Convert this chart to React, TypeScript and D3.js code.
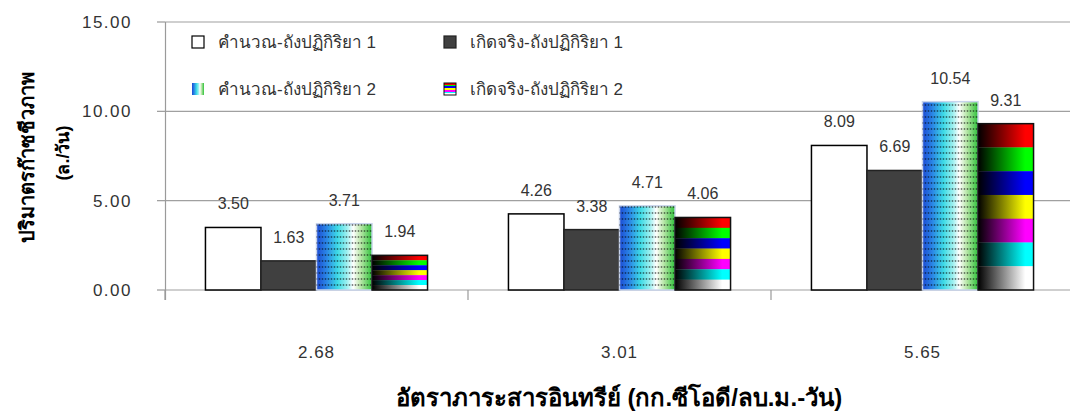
import React from "react";
import * as d3 from "d3";

const categories = ["2.68", "3.01", "5.65"];
const seriesNames = [
  "คำนวณ-ถังปฏิกิริยา 1",
  "เกิดจริง-ถังปฏิกิริยา 1",
  "คำนวณ-ถังปฏิกิริยา 2",
  "เกิดจริง-ถังปฏิกิริยา 2",
];
const calc1 = [3.5, 4.26, 8.09];
const actual1 = [1.63, 3.38, 6.69];
const calc2 = [3.71, 4.71, 10.54];
const actual2 = [1.94, 4.06, 9.31];
const yTicks = [0, 5, 10, 15];
const yTitle1 = "ปริมาตรก๊าซชีวภาพ";
const yTitle2 = "(ล./วัน)";
const xTitle = "อัตราภาระสารอินทรีย์ (กก.ซีโอดี/ลบ.ม.-วัน)";
const stripeColors = ["#ff0000", "#00ff00", "#0000ff", "#ffff00", "#ff00ff", "#00ffff", "#ffffff"];

const W = 1070;
const H = 412;
const FONT = "'Liberation Sans', Arial, 'DejaVu Sans', sans-serif";

export default function App() {
  const seriesValues = [calc1, actual1, calc2, actual2];
  const x = d3
    .scaleBand<string>()
    .domain(categories)
    .range([165, 1074])
    .paddingInner(0.267)
    .paddingOuter(0.1335);
  const step = x.step();
  const xs = d3
    .scaleBand<number>()
    .domain(d3.range(seriesNames.length))
    .range([0, x.bandwidth()]);
  const y = d3.scaleLinear().domain([0, 15]).range([290, 22]);
  const y0 = y(0);

  const fills = ["#ffffff", "#404040"];

  const bars: JSX.Element[] = [];
  const labels: JSX.Element[] = [];
  categories.forEach((c, ci) => {
    seriesValues.forEach((vals, si) => {
      const v = vals[ci];
      const bx = (x(c) as number) + (xs(si) as number);
      const bw = xs.bandwidth();
      const by = y(v);
      const bh = y0 - by;
      const key = `${ci}-${si}`;
      if (si < 2) {
        bars.push(
          <rect key={key} x={bx} y={by} width={bw} height={bh} fill={fills[si]} stroke={si === 0 ? "#000" : "#222"} strokeWidth={1.5} />
        );
      } else if (si === 2) {
        bars.push(
          <g key={key}>
            <rect x={bx} y={by} width={bw} height={bh} fill="url(#blueGrad)" stroke="#c8d4ec" strokeWidth={1.5} />
            <rect x={bx} y={by} width={bw} height={bh} fill="url(#dots)" />
          </g>
        );
      } else {
        const sh = bh / stripeColors.length;
        bars.push(
          <g key={key}>
            {stripeColors.map((col, k) => (
              <rect key={k} x={bx} y={by + k * sh} width={bw} height={sh + 0.3} fill={`url(#stripe${k})`} />
            ))}
            <rect x={bx} y={by} width={bw} height={bh} fill="none" stroke="#111" strokeWidth={1.5} />
          </g>
        );
      }
      labels.push(
        <text key={"l" + key} x={bx + bw / 2} y={by - 18} textAnchor="middle" fontSize={16} fill="#333" fontFamily={FONT}>
          {v.toFixed(2)}
        </text>
      );
    });
  });

  const legendPos = [
    { mx: 192, tx: 218, cy: 42 },
    { mx: 444, tx: 470, cy: 42 },
    { mx: 192, tx: 218, cy: 89 },
    { mx: 444, tx: 470, cy: 89 },
  ];

  const boundaries = categories.map((c) => (x(c) as number) - step * 0.1335).concat([(x(categories[categories.length - 1]) as number) + x.bandwidth() + step * 0.1335]);

  return (
    <svg width={W} height={H} style={{ position: "absolute", left: 0, top: 0, background: "#fff" }}>
      <defs>
        <linearGradient id="blueGrad" x1="0" x2="1" y1="0" y2="0">
          <stop offset="0%" stopColor="#1c4ad4" />
          <stop offset="18%" stopColor="#2a86e6" />
          <stop offset="38%" stopColor="#3ddbe6" />
          <stop offset="55%" stopColor="#9ef0f0" />
          <stop offset="66%" stopColor="#ffffff" />
          <stop offset="80%" stopColor="#b6e6a6" />
          <stop offset="100%" stopColor="#2ec23a" />
        </linearGradient>
        <pattern id="dots" patternUnits="userSpaceOnUse" width={3} height={6}>
          <circle cx={1.5} cy={3} r={0.9} fill="rgba(0,0,0,0.5)" />
        </pattern>
        {stripeColors.map((col, k) => (
          <linearGradient key={k} id={`stripe${k}`} x1="0" x2="1" y1="0" y2="0">
            <stop offset="0%" stopColor="#000" />
            <stop offset="85%" stopColor={col} />
            <stop offset="100%" stopColor={col} />
          </linearGradient>
        ))}
        <linearGradient id="stripeLegend" x1="0" x2="0" y1="0" y2="1">
          {stripeColors.map((col, k) => [
            <stop key={"a" + k} offset={`${(k / stripeColors.length) * 100}%`} stopColor={col} />,
            <stop key={"b" + k} offset={`${((k + 1) / stripeColors.length) * 100}%`} stopColor={col} />,
          ])}
        </linearGradient>
      </defs>

      {/* gridlines */}
      {yTicks.map((t) => (
        <line key={"g" + t} x1={165} x2={W} y1={y(t)} y2={y(t)} stroke="#a0a0a0" strokeWidth={1.2} />
      ))}
      {/* y axis */}
      <line x1={165.5} x2={165.5} y1={y(15)} y2={300} stroke="#9a9a9a" strokeWidth={1.2} />
      {yTicks.map((t) => (
        <g key={"t" + t}>
          <line x1={157} x2={165} y1={y(t)} y2={y(t)} stroke="#9a9a9a" strokeWidth={1.2} />
          <text x={132} y={y(t)} dy="0.36em" textAnchor="end" fontSize={17} fill="#333" fontFamily={FONT} letterSpacing={1.5}>
            {t.toFixed(2)}
          </text>
        </g>
      ))}
      {boundaries.map((bx, i) => (
        <line key={"b" + i} x1={bx} x2={bx} y1={y0} y2={300} stroke="#9a9a9a" strokeWidth={1.2} />
      ))}

      {bars}
      {labels}

      {categories.map((c) => (
        <text key={"c" + c} x={(x(c) as number) + x.bandwidth() / 2} y={352} dy="0.36em" textAnchor="middle" fontSize={17} fill="#333" fontFamily={FONT} letterSpacing={1}>
          {c}
        </text>
      ))}

      {/* legend */}
      {seriesNames.map((n, i) => {
        const p = legendPos[i];
        let marker;
        if (i === 0) marker = <rect x={p.mx} y={p.cy - 6} width={12} height={12} fill="#fff" stroke="#000" strokeWidth={1.2} />;
        else if (i === 1) marker = <rect x={p.mx} y={p.cy - 6} width={12} height={12} fill="#404040" stroke="#222" strokeWidth={1.2} />;
        else if (i === 2) marker = <rect x={p.mx} y={p.cy - 6} width={12} height={12} fill="url(#blueGrad)" />;
        else marker = <rect x={p.mx} y={p.cy - 6} width={12} height={12} fill="url(#stripeLegend)" stroke="#111" strokeWidth={1} />;
        return (
          <g key={"lg" + i}>
            {marker}
            <text x={p.tx} y={p.cy} dy="0.36em" fontSize={17} fill="#333" fontFamily={FONT}>
              {n}
            </text>
          </g>
        );
      })}

      {/* axis titles */}
      <text transform={`translate(27,157) rotate(-90)`} textAnchor="middle" dy="0.36em" fontSize={20} fontWeight="bold" fill="#000" fontFamily={FONT}>
        {yTitle1}
      </text>
      <text transform={`translate(63,153) rotate(-90)`} textAnchor="middle" dy="0.36em" fontSize={18} fontWeight="bold" fill="#000" fontFamily={FONT}>
        {yTitle2}
      </text>
      <text x={619} y={397} dy="0.36em" textAnchor="middle" fontSize={24} fontWeight="bold" fill="#000" fontFamily={FONT}>
        {xTitle}
      </text>
    </svg>
  );
}
